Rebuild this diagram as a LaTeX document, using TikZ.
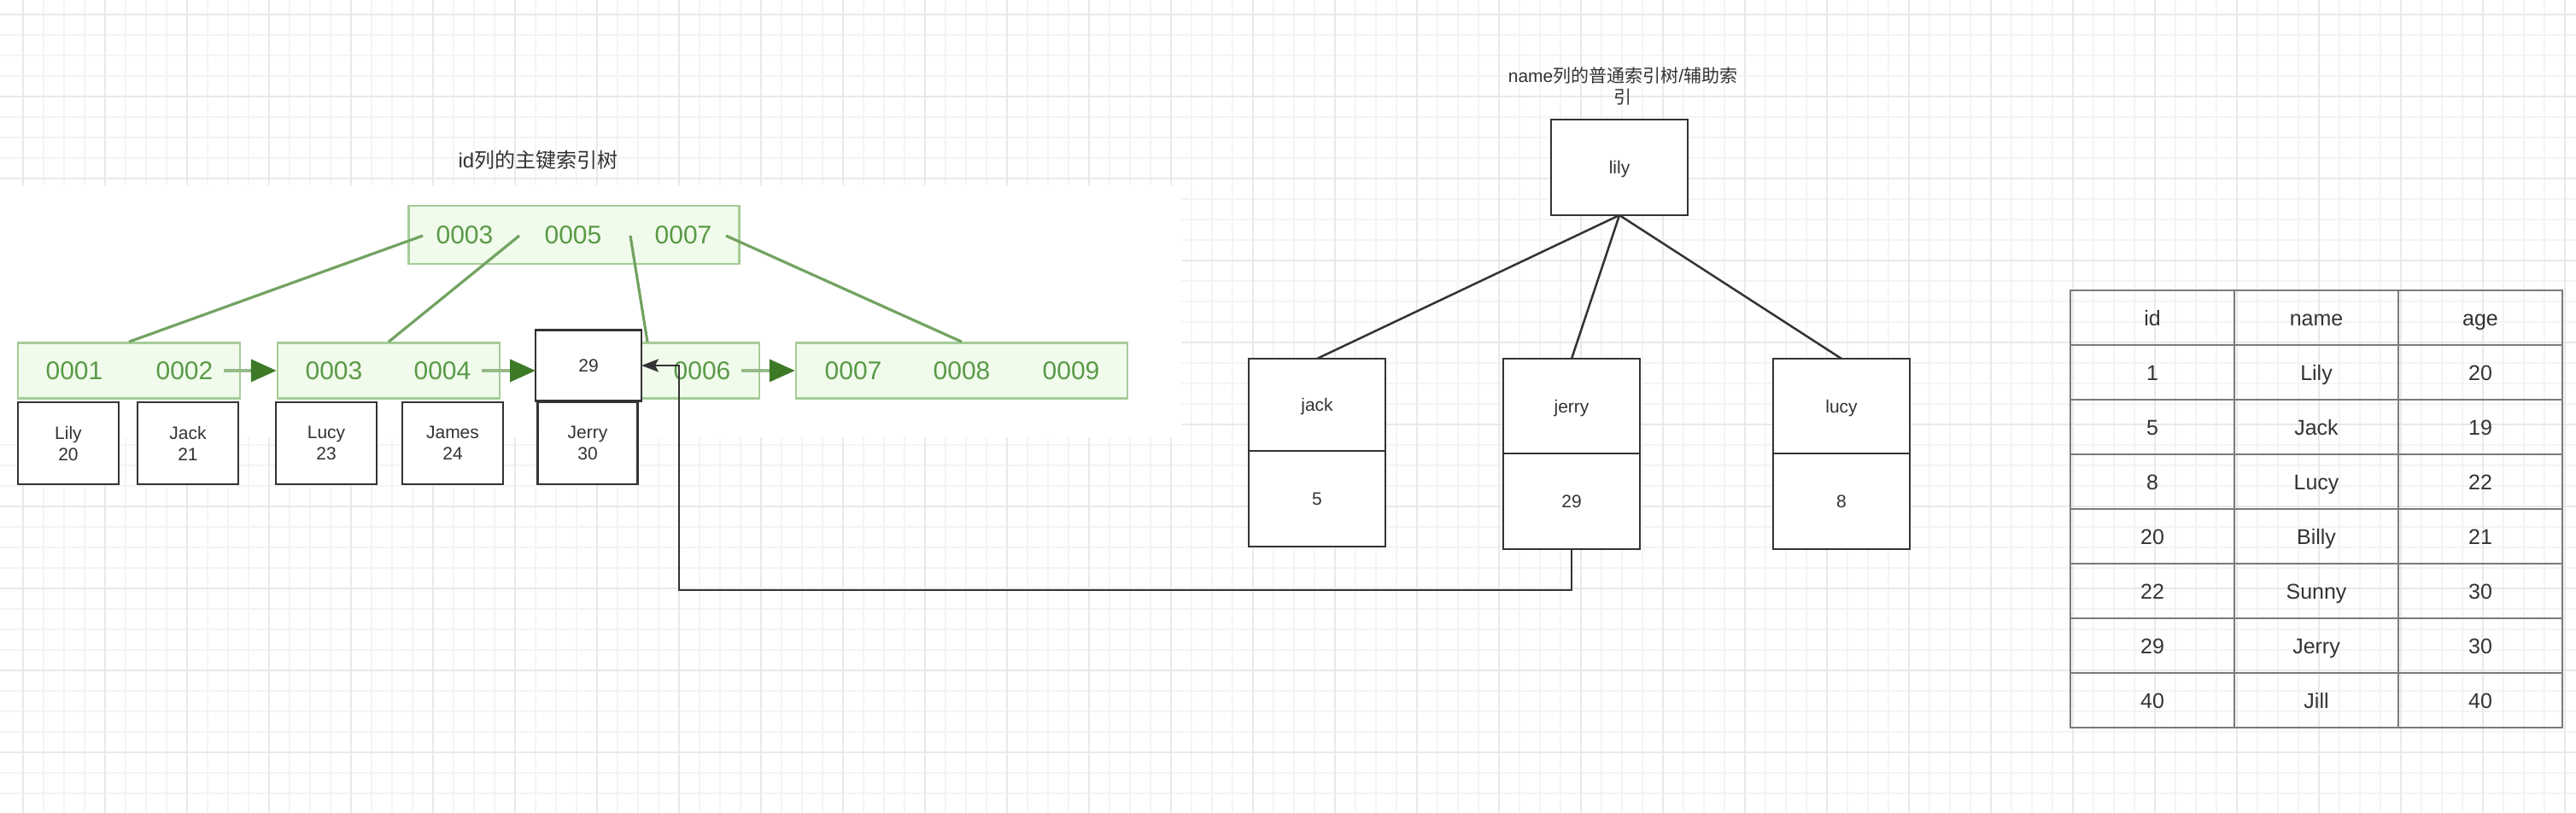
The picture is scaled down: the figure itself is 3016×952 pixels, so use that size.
\documentclass[tikz,border=0pt]{standalone}
\usepackage{fontspec}
\setmainfont{Liberation Sans}
\newfontfamily\cjk{Noto Sans CJK SC}
\usetikzlibrary{arrows.meta,positioning}
\definecolor{gridmin}{HTML}{F4F4F4}
\definecolor{gridmaj}{HTML}{E9E9E9}
\definecolor{gfill}{HTML}{F1FBEC}
\definecolor{gedge}{HTML}{A6CC98}
\definecolor{gtext}{HTML}{5A9A47}
\definecolor{gline}{HTML}{72A361}
\definecolor{gtip}{HTML}{3D7A28}
\definecolor{ink}{HTML}{333333}
\definecolor{tline}{HTML}{7A7A7A}

\begin{document}
\begin{tikzpicture}[x=1pt,y=-1pt]

\tikzstyle{gbox}=[draw=gedge, fill=gfill, line width=2.5pt, inner sep=0pt, minimum height=65pt];
\tikzstyle{key}=[text=gtext, font=\fontsize{30}{34}\selectfont, inner sep=2pt];
\tikzstyle{rec}=[draw=ink, fill=white, line width=2.5pt, inner sep=0pt, outer sep=0pt, align=center, text=ink, font=\fontsize{21}{25}\selectfont];
\tikzstyle{one}=[text height=15pt, text depth=0pt];
\tikzstyle{cell}=[draw=tline, line width=2pt, inner sep=0pt, outer sep=0pt, minimum width=192pt, minimum height=64pt, text height=18pt, text depth=0pt, text=ink, font=\fontsize{25}{30}\selectfont];
\tikzstyle{gl}=[draw=gline, line width=3.2pt];
\tikzstyle{ga}=[draw=gline!75, line width=4pt, shorten <=10pt, -{Triangle[length=30pt,width=26pt,color=gtip]}];
\tikzstyle{e}=[draw=ink, line width=2.5pt];

\useasboundingbox (0,0) rectangle (3016,952);
\fill[white] (0,0) rectangle (3016,952);
\foreach \gx in {27,51,...,3016} \draw[gridmin, line width=1.5pt] (\gx,0) -- (\gx,952);
\foreach \gy in {17,41,...,952} \draw[gridmin, line width=1.5pt] (0,\gy) -- (3016,\gy);
\foreach \gx in {27,123,...,3016} \draw[gridmaj, line width=2pt] (\gx,0) -- (\gx,952);
\foreach \gy in {17,113,...,952} \draw[gridmaj, line width=2pt] (0,\gy) -- (3016,\gy);
% pasted picture of the id tree hides the grid
\fill[white] (0,217) rectangle (1383,512);

\node[text=ink, font=\fontsize{24}{28}\selectfont] (t1) at (630,187) {id{\cjk 列的主键索引树}};
\node[text=ink, align=center, font=\fontsize{21}{25}\selectfont] (t2) at (1900,101) {name{\cjk 列的普通索引树}/{\cjk 辅助索}\\{\cjk 引}};

\node[gbox, minimum width=387pt, minimum height=68pt] (root) at (672,275) {};
\node[key] (r1) at (544,275) {0003};
\node[key] (r2) at (671,275) {0005};
\node[key] (r3) at (800,275) {0007};

\node[gbox, minimum width=260pt] (leafA) at (151,434) {};
\node[key] (a1) at (87,434) {0001};
\node[key] (a2) at (216,434) {0002};

\node[gbox, minimum width=260pt] (leafB) at (455,434) {};
\node[key] (b1) at (391,434) {0003};
\node[key] (b2) at (518,434) {0004};

\node[gbox, minimum width=262pt] (leafC) at (758,434) {};
%\node[key] (c1) at (692,434) {0005};
\node[key] (c2) at (822,434) {0006};

\node[gbox, minimum width=388pt] (leafD) at (1126,434) {};
\node[key] (d1) at (999,434) {0007};
\node[key] (d2) at (1126,434) {0008};
\node[key] (d3) at (1254,434) {0009};

\coordinate (p0) at (495,276);
\coordinate (p1) at (608,276);
\coordinate (p2) at (738,276);
\coordinate (p3) at (850,276);
\draw[gl] (p0) -- (leafA.north);
\draw[gl] (p1) -- (leafB.north);
\draw[gl] (p2) -- (leafC.north);
\draw[gl] (p3) -- (leafD.north);

\node[rec, one, minimum width=124pt, minimum height=83pt] (n29) at (689,428) {29};

\draw[ga] (a2.east) -- (leafB.west);
\draw[ga] (b2.east) -- (b2.east -| n29.west);
\draw[ga] (c2.east) -- (leafD.west);

\node[rec, minimum width=118pt, minimum height=96pt] (lily) at (80,519) {Lily\\20};
\node[rec, minimum width=118pt, minimum height=96pt] (jack) at (220,519) {Jack\\21};
\node[rec, minimum width=118pt, minimum height=96pt] (lucy) at (382,519) {Lucy\\23};
\node[rec, minimum width=118pt, minimum height=96pt] (james) at (530,519) {James\\24};
\node[rec, minimum width=117pt, minimum height=96pt] (jerry) at (688,519) {Jerry\\30};

% name index
\node[rec, one, minimum width=160pt, minimum height=112pt] (nlily) at (1896,196) {lily};

\node[rec, one, minimum width=160pt, minimum height=108pt] (njack) at (1542,474) {jack};
\node[rec, one, minimum width=160pt, minimum height=112pt, below=0pt of njack] (vjack) {5};
\node[rec, one, minimum width=160pt, minimum height=111pt] (njerry) at (1840,475.5) {jerry};
\node[rec, one, minimum width=160pt, minimum height=112pt, below=0pt of njerry] (vjerry) {29};
\node[rec, one, minimum width=160pt, minimum height=111pt] (nlucy) at (2156,475.5) {lucy};
\node[rec, one, minimum width=160pt, minimum height=112pt, below=0pt of nlucy] (vlucy) {8};

\draw[e] (nlily.south) -- (njack.north);
\draw[e] (nlily.south) -- (njerry.north);
\draw[e] (nlily.south) -- (nlucy.north);

\coordinate (bend) at (795,691);
\draw[e, -{Stealth[length=20pt,width=15pt,inset=4pt]}] (vjerry.south) |- (bend) |- (n29.east);

% table
\foreach \ida/\nma/\agea [count=\r from 0] in {id/name/age, 1/Lily/20, 5/Jack/19, 8/Lucy/22, 20/Billy/21, 22/Sunny/30, 29/Jerry/30, 40/Jill/40} {
  \node[cell] (id\r) at (2520,{372+64*\r}) {\ida};
  \node[cell] (nm\r) at (2712,{372+64*\r}) {\nma};
  \node[cell] (ag\r) at (2904,{372+64*\r}) {\agea};
}
\end{tikzpicture}
\end{document}
